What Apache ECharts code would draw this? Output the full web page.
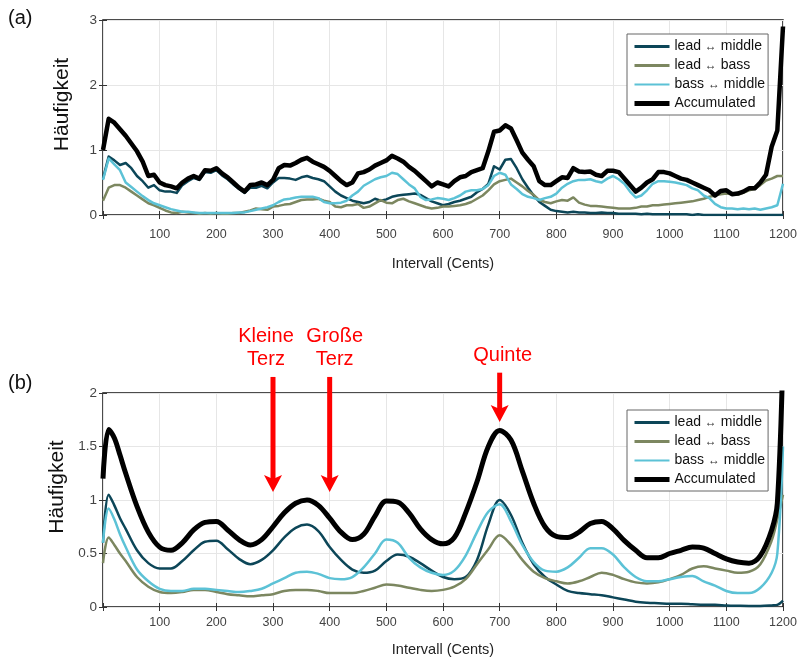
<!DOCTYPE html>
<html><head><meta charset="utf-8">
<script src="https://cdn.jsdelivr.net/npm/echarts@6/dist/echarts.min.js"></script>
<style>html,body{margin:0;padding:0;background:#fff}#c{width:802px;height:659px}</style>
</head><body><div id="c"></div>
<script>
// ---------------- DATA ----------------
const seriesNames = ['lead ↔ middle', 'lead ↔ bass', 'bass ↔ middle', 'Accumulated'];
const xTickStep = 100;            // cents between ticks
const xMax = 1200;
const topYMax = 3, topYStep = 1;
const botYMax = 2, botYStep = 0.5;

// (a) raw histograms, sampled every 10 cents from 0 to 1200
const topStep = 10;
const topLM = [0.56,0.9,0.84,0.77,0.8,0.72,0.6,0.52,0.42,0.46,
 0.38,0.36,0.36,0.34,0.46,0.52,0.57,0.54,0.66,0.65,
 0.69,0.61,0.55,0.47,0.4,0.34,0.42,0.42,0.45,0.41,
 0.5,0.57,0.57,0.56,0.54,0.58,0.6,0.57,0.55,0.52,
 0.44,0.36,0.3,0.26,0.22,0.2,0.18,0.2,0.25,0.22,
 0.24,0.28,0.3,0.31,0.32,0.33,0.31,0.26,0.21,0.18,
 0.15,0.17,0.2,0.22,0.25,0.28,0.35,0.4,0.48,0.75,
 0.7,0.85,0.86,0.72,0.55,0.42,0.3,0.2,0.14,0.08,
 0.06,0.05,0.04,0.05,0.04,0.04,0.03,0.03,0.04,0.03,
 0.03,0.02,0.02,0.02,0.02,0.01,0.02,0.01,0.01,0.01,
 0.01,0.01,0.01,0.01,0.0,0.01,0.0,0.0,0.0,0.0,
 0.0,0.0,0.0,0.0,0.0,0.0,0.0,0.0,0.0,0.0,
 0.0];
const topLB = [0.22,0.42,0.46,0.46,0.42,0.36,0.3,0.24,0.18,0.15,
 0.11,0.07,0.04,0.03,0.05,0.04,0.03,0.02,0.03,0.02,
 0.03,0.02,0.02,0.03,0.03,0.05,0.07,0.1,0.09,0.08,
 0.13,0.14,0.16,0.17,0.2,0.23,0.24,0.24,0.25,0.22,
 0.2,0.13,0.12,0.15,0.15,0.17,0.11,0.13,0.18,0.23,
 0.19,0.18,0.23,0.25,0.21,0.18,0.15,0.12,0.1,0.11,
 0.13,0.13,0.14,0.15,0.17,0.2,0.25,0.3,0.38,0.47,
 0.52,0.54,0.56,0.5,0.44,0.37,0.31,0.23,0.2,0.18,
 0.21,0.23,0.22,0.27,0.19,0.16,0.14,0.14,0.13,0.12,
 0.11,0.1,0.1,0.1,0.11,0.13,0.13,0.15,0.15,0.16,
 0.17,0.18,0.19,0.2,0.21,0.23,0.25,0.28,0.3,0.32,
 0.33,0.32,0.31,0.34,0.38,0.4,0.46,0.53,0.56,0.6,
 0.6];
const topBM = [0.54,0.87,0.78,0.69,0.5,0.43,0.36,0.29,0.23,0.18,
 0.15,0.12,0.09,0.07,0.05,0.05,0.04,0.03,0.03,0.03,
 0.03,0.03,0.03,0.03,0.04,0.04,0.06,0.08,0.1,0.12,
 0.15,0.2,0.24,0.25,0.27,0.28,0.28,0.28,0.26,0.2,
 0.18,0.18,0.19,0.22,0.3,0.36,0.45,0.5,0.55,0.58,
 0.6,0.65,0.63,0.55,0.47,0.41,0.28,0.23,0.24,0.26,
 0.25,0.23,0.26,0.3,0.36,0.38,0.38,0.4,0.46,0.6,
 0.65,0.62,0.47,0.4,0.32,0.28,0.26,0.23,0.26,0.28,
 0.33,0.42,0.48,0.52,0.54,0.54,0.55,0.52,0.5,0.56,
 0.6,0.55,0.48,0.36,0.27,0.3,0.38,0.48,0.52,0.52,
 0.51,0.5,0.48,0.46,0.41,0.38,0.3,0.26,0.17,0.12,
 0.1,0.1,0.09,0.1,0.09,0.1,0.08,0.1,0.12,0.15,
 0.48];
const topAcc = [1.0,1.48,1.42,1.32,1.22,1.1,0.98,0.82,0.6,0.62,
 0.5,0.46,0.44,0.41,0.5,0.56,0.6,0.56,0.69,0.68,
 0.72,0.64,0.58,0.5,0.42,0.36,0.46,0.47,0.5,0.46,
 0.54,0.72,0.77,0.76,0.8,0.85,0.88,0.82,0.78,0.74,
 0.68,0.6,0.52,0.46,0.5,0.64,0.66,0.7,0.76,0.8,
 0.84,0.91,0.87,0.82,0.74,0.68,0.6,0.52,0.44,0.5,
 0.47,0.44,0.52,0.58,0.6,0.66,0.69,0.72,0.98,1.28,
 1.3,1.38,1.33,1.15,0.96,0.85,0.75,0.52,0.46,0.46,
 0.52,0.58,0.57,0.72,0.67,0.66,0.67,0.62,0.6,0.68,
 0.68,0.66,0.56,0.46,0.36,0.42,0.5,0.55,0.66,0.66,
 0.64,0.6,0.56,0.54,0.5,0.46,0.42,0.38,0.3,0.37,
 0.38,0.32,0.33,0.36,0.41,0.41,0.5,0.62,1.05,1.3,
 2.9];

// (b) smoothed histograms
const botCents = [0,10,20,30,40,60,80,100,120,140,160,180,200,220,240,260,280,300,320,340,360,380,400,
 420,440,460,480,500,520,540,560,580,600,620,640,660,680,700,720,740,760,780,800,820,840,860,880,900,
 920,940,960,980,1000,1020,1040,1060,1080,1100,1120,1140,1160,1180,1190,1200];
const botLM = [0.6,1.05,0.95,0.83,0.73,0.53,0.41,0.36,0.36,0.43,0.53,0.61,0.62,0.54,0.45,0.4,0.44,0.53,0.65,0.74,0.77,0.71,0.56,
 0.44,0.35,0.32,0.34,0.43,0.49,0.47,0.41,0.34,0.28,0.26,0.28,0.44,0.77,1.0,0.86,0.6,0.4,0.28,0.21,0.15,0.13,0.12,0.11,0.09,
 0.07,0.05,0.04,0.035,0.03,0.03,0.025,0.02,0.02,0.015,0.012,0.01,0.01,0.015,0.02,0.06];
const botLB = [0.41,0.65,0.58,0.5,0.43,0.28,0.19,0.14,0.13,0.14,0.16,0.16,0.14,0.12,0.11,0.1,0.11,0.12,0.15,0.16,0.16,0.15,0.13,
 0.13,0.13,0.15,0.18,0.21,0.2,0.18,0.16,0.15,0.16,0.19,0.26,0.4,0.54,0.67,0.58,0.44,0.33,0.27,0.24,0.22,0.24,0.28,0.32,0.3,
 0.26,0.23,0.22,0.23,0.26,0.3,0.36,0.38,0.36,0.34,0.32,0.33,0.4,0.62,0.82,1.05];
const botBM = [0.6,0.92,0.82,0.68,0.56,0.35,0.24,0.17,0.15,0.15,0.17,0.17,0.16,0.15,0.14,0.15,0.17,0.22,0.27,0.32,0.33,0.31,0.27,
 0.26,0.28,0.37,0.5,0.63,0.6,0.46,0.37,0.32,0.3,0.34,0.48,0.7,0.89,0.96,0.8,0.58,0.42,0.34,0.33,0.37,0.46,0.55,0.55,0.49,
 0.37,0.28,0.24,0.24,0.26,0.28,0.29,0.24,0.2,0.15,0.13,0.13,0.18,0.32,0.5,1.5];
const botAcc = [1.2,1.66,1.58,1.42,1.25,0.94,0.7,0.56,0.53,0.6,0.72,0.79,0.8,0.72,0.63,0.58,0.63,0.75,0.88,0.97,1.0,0.95,0.83,
 0.7,0.63,0.68,0.85,0.99,0.98,0.88,0.73,0.63,0.59,0.65,0.88,1.17,1.5,1.65,1.56,1.27,0.97,0.75,0.66,0.65,0.7,0.78,0.8,0.73,
 0.62,0.53,0.46,0.46,0.5,0.53,0.56,0.55,0.5,0.45,0.42,0.41,0.48,0.72,0.97,2.4];

// annotations in panel (b): interval (cents), arrow start / tip (Häufigkeit)
const annoLabels = ['Kleine\nTerz', 'Große\nTerz', 'Quinte'];
const annoCents = [300, 400, 700];
const annoFrom = [2.15, 2.15, 2.19];
const annoTo = [1.075, 1.075, 1.73];

// ---------------- STYLE ----------------
const colors = ['#0c4658', '#7c8760', '#5cc2d6', '#000000'];
const topWidths = [2.5, 2.5, 2.5, 4.5];
const botWidths = [2.5, 2.5, 2.5, 5];
const legendWidths = [3, 3, 2, 5];
const annoDx = [-7, 5, 3];

function measure(font, txt){const c=document.createElement('canvas').getContext('2d');c.font=font;return c.measureText(txt).width;}
const narrowOK = Math.abs(measure("14px 'Liberation Sans Narrow', serif",'1000 Intervall') - measure('14px serif','1000 Intervall'))>0.5
  && measure("14px 'Liberation Sans Narrow', serif",'1000 Intervall') < measure("14px 'Liberation Sans', serif",'1000 Intervall');
const AXF = narrowOK ? "'Liberation Sans Narrow', 'Liberation Sans', Arial, sans-serif" : "'Liberation Sans', Arial, sans-serif";
const tickSize = narrowOK ? 14 : 12.5;
const nameSize = narrowOK ? 16 : 14.5;
const REG = "'Liberation Sans', Arial, sans-serif";

const grids = [
  {left:103, top:20, width:680, height:195},
  {left:103, top:393, width:680, height:214}
];

function xAxes(gi, labelMargin, nameGap){
  return [
    {gridIndex:gi, type:'value', min:0, max:xMax, interval:xTickStep, position:'bottom',
     axisLine:{show:false}, axisTick:{inside:true, length:4, lineStyle:{color:'#333'}},
     axisLabel:{formatter:v=> v===0?'':String(v), margin:labelMargin, fontFamily:AXF, fontSize:tickSize, color:'#444'},
     splitLine:{show:true, lineStyle:{color:'#e6e6e6', width:1}},
     name:'Intervall (Cents)', nameLocation:'middle', nameGap:nameGap,
     nameTextStyle:{fontFamily:AXF, fontSize:nameSize, color:'#222'}},
    {gridIndex:gi, type:'value', min:0, max:xMax, interval:xTickStep, position:'top',
     axisLine:{show:false}, axisTick:{inside:true, length:4, lineStyle:{color:'#333'}},
     axisLabel:{show:false}, splitLine:{show:false}}
  ];
}
function yAxes(gi, max, step){
  return [
    {gridIndex:gi, type:'value', min:0, max:max, interval:step, position:'left',
     axisLine:{show:false}, axisTick:{inside:true, length:4, lineStyle:{color:'#333'}},
     axisLabel:{margin:6, fontFamily:AXF, fontSize:tickSize+1, color:'#444'},
     splitLine:{show:true, lineStyle:{color:'#e6e6e6', width:1}},
     name:'Häufigkeit', nameLocation:'middle', nameGap:30,
     nameTextStyle:{fontFamily:REG, fontSize:21, color:'#111', padding:[0,0,0,26]}},
    {gridIndex:gi, type:'value', min:0, max:max, interval:step, position:'right',
     axisLine:{show:false}, axisTick:{inside:true, length:4, lineStyle:{color:'#333'}},
     axisLabel:{show:false}, splitLine:{show:false}}
  ];
}

const topCents = topAcc.map((_, i) => i * topStep);
const topData = [topLM, topLB, topBM, topAcc];
const botData = [botLM, botLB, botBM, botAcc];

const series = [];
topData.forEach((arr, k) => series.push({
  name:seriesNames[k], type:'line', xAxisIndex:0, yAxisIndex:0, symbol:'none', animation:false,
  data: topCents.map((c,i)=>[c, arr[i]]),
  lineStyle:{color:colors[k], width:topWidths[k], join:'round'}, itemStyle:{color:colors[k]}
}));
botData.forEach((arr, k) => series.push({
  name:seriesNames[k], type:'line', xAxisIndex:2, yAxisIndex:2, symbol:'none', animation:false, smooth:0.35,
  data: botCents.map((c,i)=>[c, arr[i]]),
  lineStyle:{color:colors[k], width:botWidths[k], join:'round'}, itemStyle:{color:colors[k]}
}));

function legendAt(top){
  return {
    orient:'vertical', left:627, top:top, itemWidth:35, itemHeight:12, itemGap:4,
    padding:[5,3,4,5], borderColor:'#666', borderWidth:1, backgroundColor:'#fff',
    data:seriesNames.map((n,k)=>({name:n, itemStyle:{opacity:0}, lineStyle:{width:legendWidths[k], color:colors[k]}})),
    selectedMode:false,
    itemStyle:{opacity:0},
    textStyle:{fontFamily:REG, fontSize:14, color:'#111', lineHeight:15,
      rich:{s:{fontFamily:REG, fontSize:12, color:'#333'}}},
    formatter: n => n.replace('↔', '{s|↔}')
  };
}

const option = {
  backgroundColor:'#fff',
  animation:false,
  grid: grids.map(g => Object.assign({show:true, borderColor:'#111', borderWidth:1.5, backgroundColor:'transparent'}, g)),
  xAxis: [...xAxes(0, 13, 41), ...xAxes(1, 9, 35)],
  yAxis: [...yAxes(0, topYMax, topYStep), ...yAxes(1, botYMax, botYStep)],
  legend: [legendAt(34), legendAt(410)],
  series: series
};

const chart = echarts.init(document.getElementById('c'), null, {renderer:'canvas'});
chart.setOption(option);

// annotations (positions derived from the chart's own scales)
const g = [
  {type:'text', left:8, top:8, style:{text:'(a)', fontFamily:REG, fontSize:20, fill:'#111'}},
  {type:'text', left:8, top:373, style:{text:'(b)', fontFamily:REG, fontSize:20, fill:'#111'}}
];
annoCents.forEach((c, i) => {
  const p0 = chart.convertToPixel({gridIndex:1}, [c, annoFrom[i]]);
  const p1 = chart.convertToPixel({gridIndex:1}, [c, annoTo[i]]);
  const x = p0[0], y0 = p0[1], y1 = p1[1];
  g.push({type:'rect', shape:{x:x-2.5, y:y0, width:5, height:(y1-12)-y0}, style:{fill:'#ff0000'}, z:100});
  g.push({type:'polygon', shape:{points:[[x,y1],[x-9,y1-17],[x,y1-13],[x+9,y1-17]]}, style:{fill:'#ff0000'}, z:100});
  g.push({type:'text', x:x+annoDx[i], y:y0-6, z:100,
    style:{text:annoLabels[i], fontFamily:REG, fontSize:20, lineHeight:23, fill:'#ff0000', align:'center', verticalAlign:'bottom'}});
});
chart.setOption({graphic:g});
</script>
</body></html>
